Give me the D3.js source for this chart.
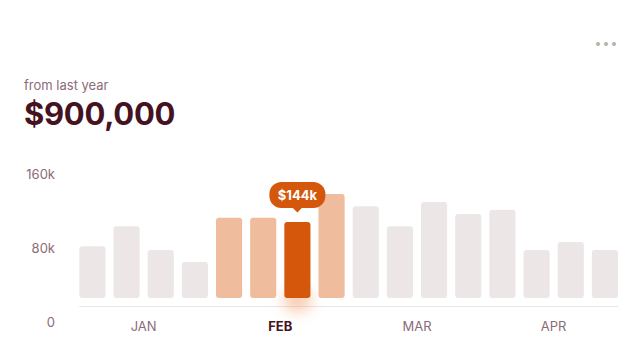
<!DOCTYPE html>
<html>
<head>
<meta charset="utf-8">
<script src="https://cdn.jsdelivr.net/npm/d3@7"></script>
<style>
  html, body { margin: 0; padding: 0; background: #ffffff; }
  svg { display: block; }
  text { font-family: Inter, "Noto Sans", sans-serif; }
</style>
</head>
<body>
<svg id="chart" width="642" height="362"></svg>
<script>
// ---- data ----
const weeks = ["Jan 1","Jan 2","Jan 3","Jan 4","Feb 1","Feb 2","Feb 3","Feb 4",
               "Mar 1","Mar 2","Mar 3","Mar 4","Apr 1","Apr 2","Apr 3","Apr 4"];
const revenueK = [98, 136, 91, 68, 152, 152, 144, 197, 174, 136, 182, 159, 167, 91, 106, 91];
const months = ["JAN", "FEB", "MAR", "APR"];
const yTicks = [0, 80, 160];
const activeMonth = "FEB";
const selectedWeek = "Feb 3";
const subtitle = "from last year";
const total = "$900,000";

// ---- styles ----
const C = {
  grey: "#ede6e7", light: "#efbd9e", strong: "#d5570c",
  muted: "#8c6b79", dark: "#45121f", axis: "#ebe3e5", dots: "#b4b2a6"
};

const svg = d3.select("#chart");

// header
svg.append("text").attr("x", 24).attr("y", 89.5)
  .attr("font-size", 13).attr("fill", C.muted).text(subtitle);
svg.append("text").attr("x", 24).attr("y", 125)
  .attr("font-size", 31).attr("font-weight", 700).attr("fill", C.dark)
  .attr("letter-spacing", -0.3).text(total);

// menu dots
svg.selectAll("circle.dot").data([0, 1, 2]).join("circle")
  .attr("class", "dot").attr("cx", d => 598 + d * 8).attr("cy", 44)
  .attr("r", 2).attr("fill", C.dots);

// scales
const x = d3.scaleBand().domain(weeks).range([79.3, 618]).paddingInner(0.235).paddingOuter(0);
const yBar = d3.scaleLinear().domain([0, 200]).range([298, 192.4]);
const yLab = d3.scaleLinear().domain([0, 160]).range([322, 174]);

// y labels
const yAxis = d3.axisLeft(yLab).tickValues(yTicks).tickSize(0).tickPadding(0)
  .tickFormat(d => d === 0 ? "0" : d + "k");
const gy = svg.append("g").attr("transform", "translate(55,0)").call(yAxis);
gy.select(".domain").remove();
gy.selectAll("text").attr("font-size", 13).attr("fill", C.muted)
  .attr("font-family", "Inter, sans-serif");

// axis line
svg.append("line").attr("x1", x.range()[0]).attr("x2", x.range()[1])
  .attr("y1", 306.5).attr("y2", 306.5).attr("stroke", C.axis).attr("stroke-width", 1);

// glow
const defs = svg.append("defs");
defs.append("filter").attr("id", "blur").attr("x", "-100%").attr("y", "-100%")
  .attr("width", "300%").attr("height", "300%")
  .append("feGaussianBlur").attr("stdDeviation", 7);
const selIdx = weeks.indexOf(selectedWeek);
svg.append("ellipse")
  .attr("cx", x(selectedWeek) + x.bandwidth() / 2).attr("cy", yBar(0) + 2)
  .attr("rx", 14).attr("ry", 12)
  .attr("fill", "#f3a06e").attr("opacity", 0.55).attr("filter", "url(#blur)");

// bars
const monthOf = w => w.slice(0, 3).toUpperCase();
svg.selectAll("rect.bar").data(weeks).join("rect")
  .attr("class", "bar")
  .attr("x", d => x(d)).attr("width", x.bandwidth())
  .attr("y", (d, i) => yBar(revenueK[i]))
  .attr("height", (d, i) => yBar(0) - yBar(revenueK[i]))
  .attr("rx", 3).attr("ry", 3)
  .attr("fill", (d, i) => d === selectedWeek ? C.strong
        : (monthOf(d) === activeMonth ? C.light : C.grey));

// month labels: centre of each group of 4 bars
svg.selectAll("text.month").data(months).join("text")
  .attr("class", "month")
  .attr("x", (m, i) => {
    const a = weeks[i * 4 + 1], b = weeks[i * 4 + 2];
    return (x(a) + x.bandwidth() + x(b)) / 2;
  })
  .attr("y", 330.7).attr("text-anchor", "middle").attr("font-size", 13)
  .attr("font-weight", m => m === activeMonth ? 700 : 400)
  .attr("fill", m => m === activeMonth ? C.dark : C.muted)
  .text(m => m);

// tooltip
const tx = x(selectedWeek) + x.bandwidth() / 2;
const ty = yBar(revenueK[selIdx]);
const tip = svg.append("g").attr("transform", `translate(${tx},${ty})`);
const bw = 56, bh = 26, gap = 14;
tip.append("rect").attr("x", -bw / 2).attr("y", -gap - bh).attr("width", bw).attr("height", bh)
  .attr("rx", 12).attr("fill", C.strong);
tip.append("path")
  .attr("d", `M${-5},${-gap - 0.5} L0,${-gap + 4.5} L5,${-gap - 0.5} Z`)
  .attr("fill", C.strong);
tip.append("text").attr("x", 0).attr("y", -gap - 8)
  .attr("text-anchor", "middle").attr("font-size", 13).attr("font-weight", 700)
  .attr("fill", "#ffffff").text("$" + revenueK[selIdx] + "k");
</script>
</body>
</html>
